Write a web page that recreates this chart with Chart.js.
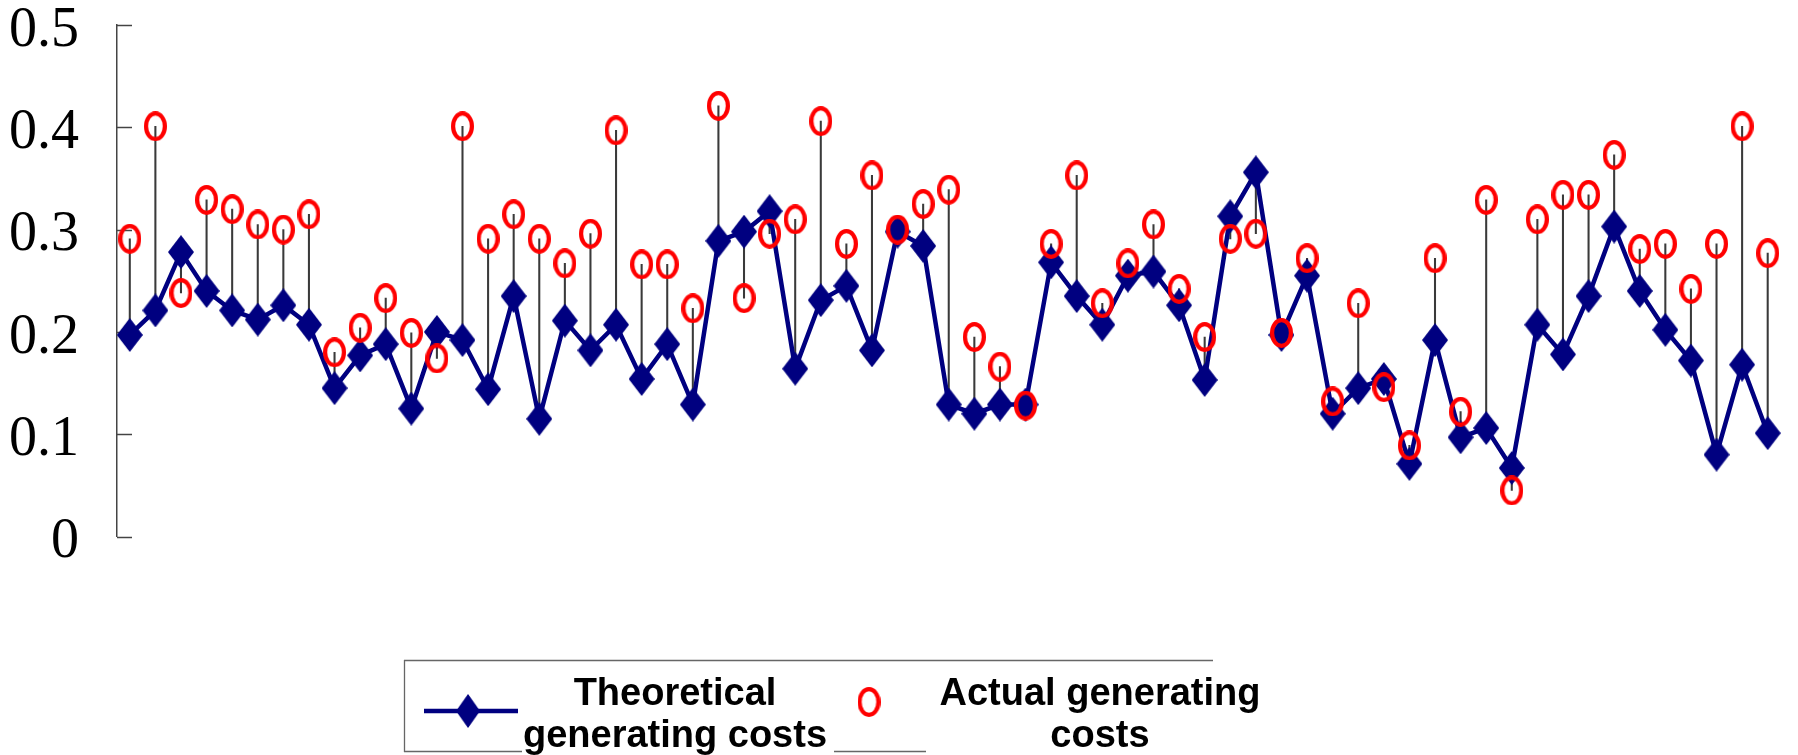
<!DOCTYPE html>
<html>
<head>
<meta charset="utf-8">
<script src="https://cdn.jsdelivr.net/npm/chart.js@4/dist/chart.umd.min.js"></script>
<style>html,body{margin:0;padding:0;background:#fff}canvas{display:block}</style>
</head>
<body>
<canvas id="c" width="1798" height="755"></canvas>
<script>
const categories = [1,2,3,4,5,6,7,8,9,10,11,12,13,14,15,16,17,18,19,20,21,22,23,24,25,26,27,28,29,30,31,32,33,34,35,36,37,38,39,40,41,42,43,44,45,46,47,48,49,50,51,52,53,54,55,56,57,58,59,60,61,62,63,64,65];

const theoreticalCosts = [0.197,0.221,0.278,0.240,0.221,0.212,0.226,0.207,0.145,0.177,
  0.188,0.125,0.200,0.192,0.144,0.235,0.115,0.211,0.182,0.207,
  0.154,0.188,0.129,0.289,0.298,0.318,0.164,0.231,0.245,0.182,
  0.298,0.284,0.129,0.120,0.129,0.129,0.268,0.235,0.207,0.255,
  0.259,0.226,0.153,0.313,0.356,0.197,0.255,0.120,0.145,0.154,
  0.071,0.192,0.097,0.106,0.067,0.207,0.178,0.235,0.303,0.240,
  0.202,0.172,0.080,0.168,0.101];

const actualCosts = [0.291,0.401,0.238,0.329,0.320,0.305,0.300,0.315,0.180,0.204,
  0.233,0.199,0.174,0.401,0.291,0.315,0.291,0.267,0.296,0.397,
  0.266,0.266,0.223,0.421,0.233,0.296,0.310,0.406,0.286,0.353,
  0.300,0.325,0.339,0.195,0.166,0.128,0.286,0.353,0.228,0.267,
  0.305,0.242,0.195,0.291,0.296,0.199,0.272,0.132,0.228,0.146,
  0.089,0.272,0.122,0.329,0.045,0.310,0.334,0.334,0.373,0.281,
  0.286,0.242,0.286,0.401,0.277];

const yTicks = [0, 0.1, 0.2, 0.3, 0.4, 0.5];
const seriesNames = ['Theoretical generating costs', 'Actual generating costs'];
const legendLines = [['Theoretical', 'generating costs'], ['Actual generating', 'costs']];

function diamondCanvas(w, h, color) {
  const c = document.createElement('canvas'); c.width = w; c.height = h;
  const x = c.getContext('2d'); x.fillStyle = color;
  x.beginPath(); x.moveTo(w/2, 0); x.lineTo(w, h/2); x.lineTo(w/2, h); x.lineTo(0, h/2); x.closePath(); x.fill();
  return c;
}
function ellipseCanvas(w, h, lw, color) {
  const c = document.createElement('canvas'); c.width = w; c.height = h;
  const x = c.getContext('2d'); x.strokeStyle = color; x.lineWidth = lw;
  x.beginPath(); x.ellipse(w/2, h/2, w/2 - lw/2, h/2 - lw/2, 0, 0, Math.PI*2); x.stroke();
  return c;
}
const diamondImg = diamondCanvas(26, 34, '#000080');
const ellipseImg = ellipseCanvas(23, 30, 4.2, '#ff0000');

const innerTicks = {
  id: 'innerTicks',
  beforeDatasetsDraw(chart) {
    const s = chart.scales.y, ctx = chart.ctx, left = chart.chartArea.left;
    ctx.save(); ctx.strokeStyle = '#444'; ctx.lineWidth = 1.5;
    s.ticks.forEach((t, i) => {
      const y = Math.round(s.getPixelForTick(i)) + 0.5;
      ctx.beginPath(); ctx.moveTo(left, y); ctx.lineTo(left + 15, y); ctx.stroke();
    });
    ctx.restore();
  }
};

const customLegend = {
  id: 'customLegend',
  afterDraw(chart) {
    const ctx = chart.ctx;
    const dsT = chart.data.datasets[1];
    ctx.save();
    ctx.strokeStyle = '#666'; ctx.lineWidth = 1.3;
    ctx.beginPath();
    ctx.moveTo(404, 660.5); ctx.lineTo(1213, 660.5);
    ctx.moveTo(404.5, 660); ctx.lineTo(404.5, 752);
    ctx.moveTo(404, 751.5); ctx.lineTo(522, 751.5);
    ctx.moveTo(834, 751.5); ctx.lineTo(926, 751.5);
    ctx.stroke();
    ctx.strokeStyle = dsT.borderColor; ctx.lineWidth = dsT.borderWidth;
    ctx.beginPath(); ctx.moveTo(424, 711); ctx.lineTo(518, 711); ctx.stroke();
    ctx.drawImage(diamondImg, 468 - 12, 711 - 17, 24, 34);
    ctx.drawImage(ellipseImg, 869 - 11.5, 702 - 15);
    ctx.fillStyle = '#000';
    ctx.font = 'bold 38px "Liberation Sans", Arial, sans-serif';
    ctx.textAlign = 'center'; ctx.textBaseline = 'alphabetic';
    const centers = [675, 1100];
    legendLines.forEach((lines, k) => {
      lines.forEach((ln, j) => ctx.fillText(ln, centers[k], 705 + j * 42));
    });
    ctx.restore();
  }
};

new Chart(document.getElementById('c'), {
  type: 'line',
  data: {
    labels: categories,
    datasets: [
      {
        label: seriesNames[1],
        data: actualCosts,
        showLine: false,
        pointStyle: ellipseImg,
        pointRadius: 12,
        order: 0
      },
      {
        label: seriesNames[0],
        data: theoreticalCosts,
        borderColor: '#000080',
        backgroundColor: '#000080',
        borderWidth: 4.5,
        tension: 0,
        pointStyle: diamondImg,
        pointRadius: 13,
        order: 1
      },
      {
        type: 'bar',
        label: 'range',
        data: theoreticalCosts.map((t, i) => [Math.min(t, actualCosts[i]), Math.max(t, actualCosts[i])]),
        backgroundColor: '#3a3a3a',
        borderWidth: 0,
        barThickness: 1.4,
        order: 2
      }
    ]
  },
  options: {
    responsive: false,
    devicePixelRatio: 1,
    animation: false,
    layout: { padding: { top: 25, bottom: 218.5, right: 11, left: 0 } },
    plugins: { legend: { display: false }, tooltip: { enabled: false } },
    scales: {
      x: { type: 'category', offset: true, display: false },
      y: {
        min: yTicks[0], max: yTicks[yTicks.length - 1],
        afterFit(s) { s.width = 117; s.paddingTop = 0; s.paddingBottom = 0; },
        afterBuildTicks(s) { s.ticks = yTicks.map(v => ({ value: v })); },
        ticks: {
          color: '#000',
          font: { family: '"Liberation Serif", "DejaVu Serif", serif', size: 56 },
          padding: 38,
          labelOffset: 6,
          callback: v => v === 0 ? '0' : v.toFixed(1)
        },
        grid: { display: true, drawOnChartArea: false, drawTicks: false },
        border: { display: true, color: '#444', width: 1.5 }
      }
    }
  },
  plugins: [innerTicks, customLegend]
});
</script>
</body>
</html>
